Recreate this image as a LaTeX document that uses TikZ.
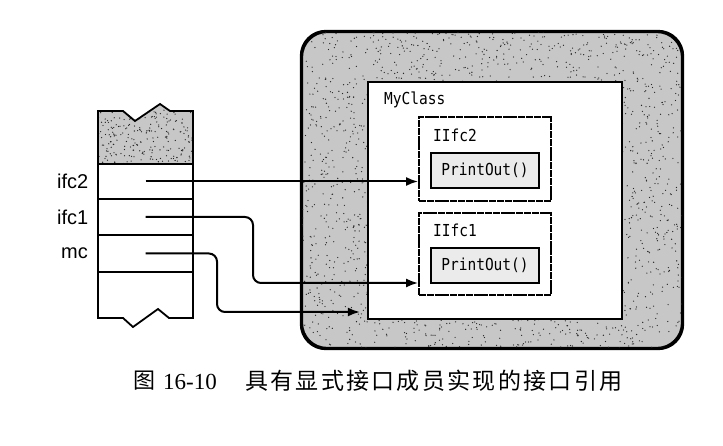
\documentclass[tikz,border=0pt]{standalone}
\usepackage{fontspec}
\setmainfont{Liberation Serif}
\newfontfamily\labfont{Liberation Sans}
\newfontfamily\monofont[FakeStretch=0.88]{DejaVu Sans Mono}
\newfontfamily\cjkfont{Noto Sans CJK SC}
\usetikzlibrary{arrows.meta,calc}
\begin{document}
\begin{tikzpicture}[x=1pt,y=-1pt,
  outerbox/.style={draw=black,line width=2.2pt,fill=black!22,rounded corners=25pt,inner sep=0pt},
  classbox/.style={draw=black,line width=2.2pt,fill=white,inner sep=0pt},
  ifcbox/.style={draw=black,line width=1.8pt,fill=white,dash pattern=on 7pt off 0.8pt,inner sep=0pt},
  pbox/.style={draw=black,line width=2.2pt,fill=black!8,inner sep=0pt,font=\monofont\fontsize{16.5}{19}\selectfont},
  monolbl/.style={inner sep=0pt,anchor=west,font=\monofont\fontsize{16.5}{19}\selectfont},
  rowbox/.style={draw=black,line width=1.8pt,minimum width=95pt,inner sep=0pt},
  vlabel/.style={inner sep=0pt,anchor=west,font=\labfont\fontsize{20}{24}\selectfont},
  arr/.style={line width=2pt,-{Latex[length=12pt,width=9pt]}},
  speck/.style={fill=black!85}
]
\useasboundingbox[fill=white] (0,0) rectangle (723,446);
\pgfmathsetseed{7}
% stack
\fill[black!22] (98,111) -- (123,111) -- (135,121) -- (160,104) -- (170,111) -- (193,111) -- (193,164) -- (98,164) -- cycle;
\begin{scope}
\clip (98,111) -- (123,111) -- (135,121) -- (160,104) -- (170,111) -- (193,111) -- (193,164) -- (98,164) -- cycle;
\foreach \i in {1,...,260}{\fill[speck] ({98+95*rnd},{104+60*rnd}) circle (0.65pt);}
\end{scope}
\draw[line width=1.8pt,line join=miter] (98,164) -- (98,111) -- (123,111) -- (135,121) -- (160,104) -- (170,111) -- (193,111) -- (193,164);
\node[rowbox,minimum height=35pt] (r2) at (145.5,181.5) {};
\node[rowbox,minimum height=36pt] (r1) at (145.5,217) {};
\node[rowbox,minimum height=37pt] (rm) at (145.5,253.5) {};
\draw[line width=1.8pt,line join=miter] (98,272) -- (98,318) -- (123,318) -- (133,327) -- (158,309) -- (169,318) -- (193,318) -- (193,272);
\node[vlabel] (l2) at (57,181) {ifc2};
\node[vlabel] (l1) at (57,217) {ifc1};
\node[vlabel] (lm) at (61,253) {mc};
% object
\node[outerbox,minimum width=380pt,minimum height=316pt] (outer) at (492,190) {};
\begin{scope}
\clip[rounded corners=25pt] (302,32) rectangle (682,348);
\foreach \i in {1,...,2400}{\fill[speck] ({302+380*rnd},{32+316*rnd}) circle (0.65pt);}
\end{scope}
\draw[line width=2.2pt,rounded corners=25pt] (outer.north west) rectangle (outer.south east);
\node[classbox,minimum width=254pt,minimum height=237pt] (myclass) at (495,200.5) {};
\node[monolbl] (mcl) at (384,100) {MyClass};
\node[ifcbox,minimum width=132pt,minimum height=84pt] (iifc2) at (485,159) {};
\node[monolbl] (t2) at (433,135) {IIfc2};
\node[pbox,minimum width=108pt,minimum height=35pt] (p2) at (485,170.5) {PrintOut()};
\node[ifcbox,minimum width=132pt,minimum height=82pt] (iifc1) at (485,254) {};
\node[monolbl] (t1) at (433,230) {IIfc1};
\node[pbox,minimum width=108pt,minimum height=35pt] (p1) at (485,265.5) {PrintOut()};
% arrows
\draw[arr] (r2.center) -- (r2.center -| iifc2.west);
\draw[arr,rounded corners=8pt] (r1.center) -- ++(107.5,0) |- ($(iifc1.west)+(0,29)$);
\draw[arr,rounded corners=8pt] (rm.center) -- ++(71.5,0) |- ($(myclass.west)+(-7,111.5)$);
% caption
\node[inner sep=0pt,anchor=west,font=\cjkfont\fontsize{22}{26}\selectfont] (cap1) at (133,381) {图};
\node[inner sep=0pt,anchor=west,font=\fontsize{23}{26}\selectfont] (cap2) at (163,382) {16-10};
\node[inner sep=0pt,anchor=west,font=\cjkfont\fontsize{23}{26}\selectfont\addfontfeature{LetterSpace=10}] (cap3) at (245,381) {具有显式接口成员实现的接口引用};
\end{tikzpicture}
\end{document}
